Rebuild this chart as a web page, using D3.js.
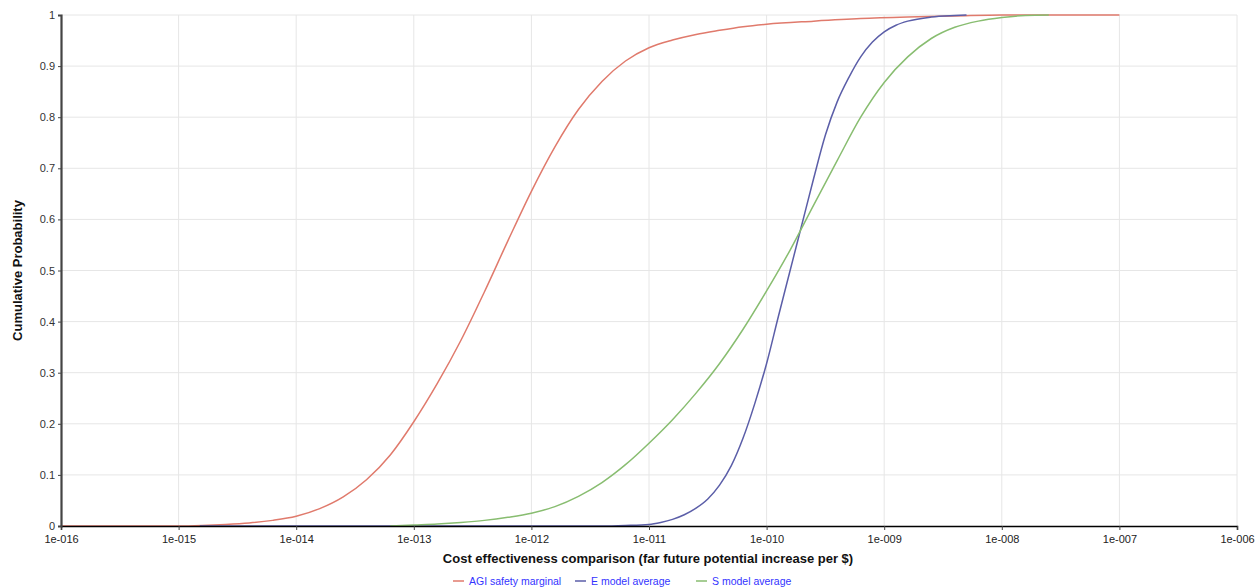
<!DOCTYPE html>
<html>
<head>
<meta charset="utf-8">
<script src="https://cdn.jsdelivr.net/npm/d3@7"></script>
<style>
	body { margin: 0; background: #fff; }
	text { font-family: Arial, "Liberation Sans", sans-serif; }
</style>
</head>
<body>
<div id="chart"></div>
<script>
// series data: exponent of x (log10) and cumulative probability
var agiExp = [-16, -15, -14.8, -14.6, -14.4, -14.2, -14, -13.8, -13.6, -13.4, -13.2, -13, -12.8, -12.6, -12.4, -12.2, -12, -11.8, -11.6, -11.4, -11.2, -11, -10.8, -10.6, -10.4, -10.2, -10, -9.6, -9.2, -8.8, -8.4, -8, -7];
var agiVal = [0, 0, 0.001, 0.003, 0.006, 0.011, 0.019, 0.034, 0.057, 0.091, 0.139, 0.204, 0.279, 0.363, 0.458, 0.558, 0.655, 0.742, 0.815, 0.87, 0.91, 0.936, 0.951, 0.962, 0.97, 0.977, 0.982, 0.988, 0.993, 0.996, 0.998, 1, 1];

var eExp = [-14.82, -11.4, -11.2, -11, -10.9, -10.8, -10.7, -10.6, -10.5, -10.4, -10.3, -10.2, -10.1, -10, -9.9, -9.8, -9.7, -9.6, -9.5, -9.4, -9.3, -9.2, -9.1, -9, -8.9, -8.8, -8.6, -8.4, -8.3];
var eVal = [0, 0, 0.001, 0.003, 0.007, 0.013, 0.022, 0.035, 0.053, 0.08, 0.118, 0.172, 0.24, 0.318, 0.41, 0.5, 0.59, 0.68, 0.765, 0.83, 0.878, 0.918, 0.947, 0.967, 0.98, 0.988, 0.996, 0.999, 1];

var sExp = [-13.2, -13, -12.8, -12.6, -12.4, -12.2, -12, -11.8, -11.6, -11.4, -11.2, -11, -10.8, -10.6, -10.4, -10.2, -10, -9.8, -9.6, -9.4, -9.2, -9, -8.8, -8.6, -8.4, -8.2, -8, -7.8, -7.6];
var sVal = [0, 0.002, 0.004, 0.007, 0.011, 0.017, 0.025, 0.038, 0.058, 0.085, 0.12, 0.162, 0.208, 0.26, 0.318, 0.385, 0.46, 0.54, 0.628, 0.715, 0.8, 0.868, 0.918, 0.954, 0.976, 0.988, 0.995, 0.999, 1];

var seriesNames = ["AGI safety marginal", "E model average", "S model average"];
var seriesColors = ["#e07a6c", "#5b5ea8", "#88bd70"];

var xTickExp = [-16, -15, -14, -13, -12, -11, -10, -9, -8, -7, -6];
var yTicks = [0, 0.1, 0.2, 0.3, 0.4, 0.5, 0.6, 0.7, 0.8, 0.9, 1];

function load() {

	var margin = { top: 15, right: 19, bottom: 62, left: 61 },
		width = 1256 - margin.left - margin.right,
		height = 588 - margin.top - margin.bottom;

	var svg = d3.select("#chart")
		.append("svg")
		.attr("width", 1256)
		.attr("height", 588)
	  .append("g")
		.attr("transform", "translate(" + margin.left + "," + margin.top + ")");

	var x = d3.scaleLog()
		.domain([1e-16, 1e-6])
		.range([0, width]);

	var y = d3.scaleLinear()
		.domain([0, 1])
		.range([height, 0]);

	var xTicks = xTickExp.map(function(e) { return Math.pow(10, e); });

	// grid
	svg.append("g").selectAll("line")
		.data(xTicks.slice(1))
		.enter().append("line")
		.attr("x1", function(d) { return x(d); })
		.attr("x2", function(d) { return x(d); })
		.attr("y1", 0)
		.attr("y2", height)
		.attr("stroke", "#e6e6e6");

	svg.append("g").selectAll("line")
		.data(yTicks.slice(1))
		.enter().append("line")
		.attr("x1", 0)
		.attr("x2", width)
		.attr("y1", function(d) { return y(d); })
		.attr("y2", function(d) { return y(d); })
		.attr("stroke", "#e6e6e6");

	// lines
	var series = [
		{ exp: agiExp, val: agiVal },
		{ exp: eExp, val: eVal },
		{ exp: sExp, val: sVal }
	];

	var line = d3.line()
		.x(function(d) { return x(d[0]); })
		.y(function(d) { return y(d[1]); })
		.curve(d3.curveMonotoneX);

	series.forEach(function(s, i) {
		var pts = s.exp.map(function(e, j) { return [Math.pow(10, e), s.val[j]]; });
		svg.append("path")
			.datum(pts)
			.attr("fill", "none")
			.attr("stroke", seriesColors[i])
			.attr("stroke-width", 1.5)
			.attr("d", line);
	});

	// x axis
	var xAxis = svg.append("g")
		.attr("transform", "translate(0," + height + ")")
		.call(d3.axisBottom(x)
			.tickValues(xTicks)
			.tickSize(4)
			.tickFormat(function(d) {
				var e = Math.round(Math.log10(d));
				return "1e-" + ("000" + (-e)).slice(-3);
			}));
	xAxis.select(".domain").attr("stroke", "#000").attr("stroke-width", 1.5);
	xAxis.selectAll(".tick line").attr("stroke", "#444");
	xAxis.selectAll("text").attr("fill", "#222").style("font-size", "11px").attr("dy", "0.9em");

	// y axis
	var yAxis = svg.append("g")
		.call(d3.axisLeft(y)
			.tickValues(yTicks)
			.tickSize(3)
			.tickFormat(d3.format("~g")));
	yAxis.select(".domain").attr("stroke", "#444").attr("stroke-width", 2.2);
	yAxis.selectAll(".tick line").attr("stroke", "#444");
	yAxis.selectAll("text").attr("fill", "#333").style("font-size", "11px").attr("x", -6);

	// axis titles
	svg.append("text")
		.attr("x", 587)
		.attr("y", height + 37)
		.attr("text-anchor", "middle")
		.style("font-size", "13px")
		.style("font-weight", "bold")
		.attr("fill", "#111")
		.text("Cost effectiveness comparison (far future potential increase per $)");

	svg.append("text")
		.attr("transform", "translate(-39," + (height / 2) + ") rotate(-90)")
		.attr("text-anchor", "middle")
		.style("font-size", "13px")
		.style("font-weight", "bold")
		.attr("fill", "#111")
		.text("Cumulative Probability");

	// legend
	var legendX = [453, 575, 696];
	var legend = d3.select("svg").append("g");
	seriesNames.forEach(function(name, i) {
		legend.append("line")
			.attr("x1", legendX[i])
			.attr("x2", legendX[i] + 11)
			.attr("y1", 581)
			.attr("y2", 581)
			.attr("stroke", seriesColors[i])
			.attr("stroke-width", 1.5);
		legend.append("text")
			.attr("x", legendX[i] + 16)
			.attr("y", 585)
			.style("font-size", "10.5px")
			.attr("fill", "#3333ff")
			.text(name);
	});
}

load();
</script>
</body>
</html>
